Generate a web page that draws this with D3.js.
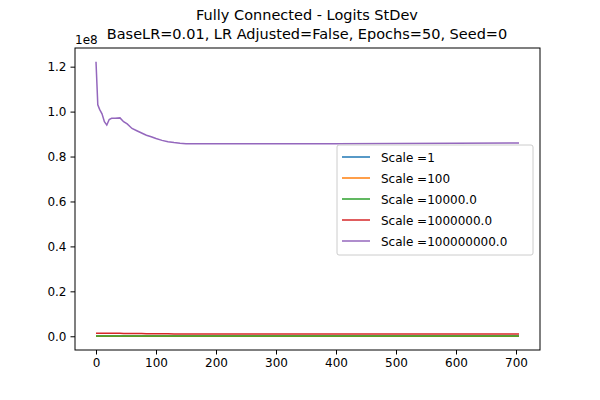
<!DOCTYPE html>
<html><head><meta charset="utf-8">
<script src="https://cdn.jsdelivr.net/npm/d3@7"></script>
<style>body{margin:0;background:#fff}text{font-family:"DejaVu Sans",sans-serif}</style>
</head><body><svg id="c" width="600" height="400"></svg>
<script>
var steps = [0, 3, 6, 10, 14, 18, 22, 26, 32, 40, 46, 52, 60, 68, 76, 84, 92, 100, 110, 120, 130, 140, 150, 200, 300, 400, 500, 600, 705];
var purple = [1.222, 1.03, 1.01, 0.99, 0.955, 0.94, 0.965, 0.97, 0.97, 0.972, 0.955, 0.945, 0.925, 0.915, 0.905, 0.895, 0.888, 0.88, 0.872, 0.866, 0.862, 0.859, 0.857, 0.857, 0.857, 0.857, 0.858, 0.859, 0.86];
var red = [0.013, 0.013, 0.013, 0.013, 0.013, 0.013, 0.013, 0.013, 0.013, 0.013, 0.012, 0.012, 0.012, 0.012, 0.012, 0.011, 0.011, 0.011, 0.011, 0.011, 0.010, 0.010, 0.010, 0.010, 0.010, 0.010, 0.010, 0.010, 0.010];
var green = steps.map(function () { return 0.001; });
var orange = steps.map(function () { return 0.0; });
var blue = steps.map(function () { return 0.0; });
var names = ["Scale =1", "Scale =100", "Scale =10000.0", "Scale =1000000.0", "Scale =100000000.0"];
var cols = ["#1f77b4", "#ff7f0e", "#2ca02c", "#d62728", "#9467bd"];
var series = [blue, orange, green, red, purple];
var xTicks = [0, 100, 200, 300, 400, 500, 600, 700];
var yTicks = [0, 0.2, 0.4, 0.6, 0.8, 1.0, 1.2];

var svg = d3.select("#c");
var L = 75, R = 540, T = 48, B = 350;
var x = d3.scaleLinear().domain([-35, 740]).range([L, R]);
var y = d3.scaleLinear().domain([-0.0611, 1.2831]).range([B, T]);

var line = d3.line().x(function (d, i) { return x(steps[i]); }).y(function (d) { return y(d); });
series.forEach(function (s, k) {
  svg.append("path").attr("d", line(s)).attr("fill", "none")
    .attr("stroke", cols[k]).attr("stroke-width", 1.5);
});

svg.append("g").attr("transform", "translate(0," + B + ")")
  .call(d3.axisBottom(x).tickValues(xTicks).tickSize(4.5).tickPadding(4).tickSizeOuter(0))
  .call(function (g) { g.select(".domain").remove(); })
  .selectAll("text").attr("font-size", 12).attr("fill", "#000");
svg.append("g").attr("transform", "translate(" + L + ",0)")
  .call(d3.axisLeft(y).tickValues(yTicks).tickFormat(d3.format(".1f")).tickSize(4.5).tickPadding(4).tickSizeOuter(0))
  .call(function (g) { g.select(".domain").remove(); })
  .selectAll("text").attr("font-size", 12).attr("fill", "#000");
svg.append("rect").attr("x", L).attr("y", T).attr("width", R - L).attr("height", B - T)
  .attr("fill", "none").attr("stroke", "#000").attr("stroke-width", 1);

svg.append("text").attr("x", L).attr("y", T - 4).attr("font-size", 12).text("1e8");
svg.append("text").attr("x", 307).attr("y", 20).attr("text-anchor", "middle").attr("font-size", 14.5).text("Fully Connected - Logits StDev");
svg.append("text").attr("x", 307).attr("y", 39).attr("text-anchor", "middle").attr("font-size", 14.5).text("BaseLR=0.01, LR Adjusted=False, Epochs=50, Seed=0");

var lg = svg.append("g").attr("transform", "translate(337,145)");
lg.append("rect").attr("width", 196).attr("height", 110).attr("rx", 2)
  .attr("fill", "#fff").attr("fill-opacity", 0.8).attr("stroke", "#ccc");
names.forEach(function (n, i) {
  var yy = 12 + i * 21;
  lg.append("line").attr("x1", 5).attr("x2", 33).attr("y1", yy).attr("y2", yy)
    .attr("stroke", cols[i]).attr("stroke-width", 1.5);
  lg.append("text").attr("x", 44).attr("y", yy + 4.5).attr("font-size", 12).text(n);
});
</script></body></html>
